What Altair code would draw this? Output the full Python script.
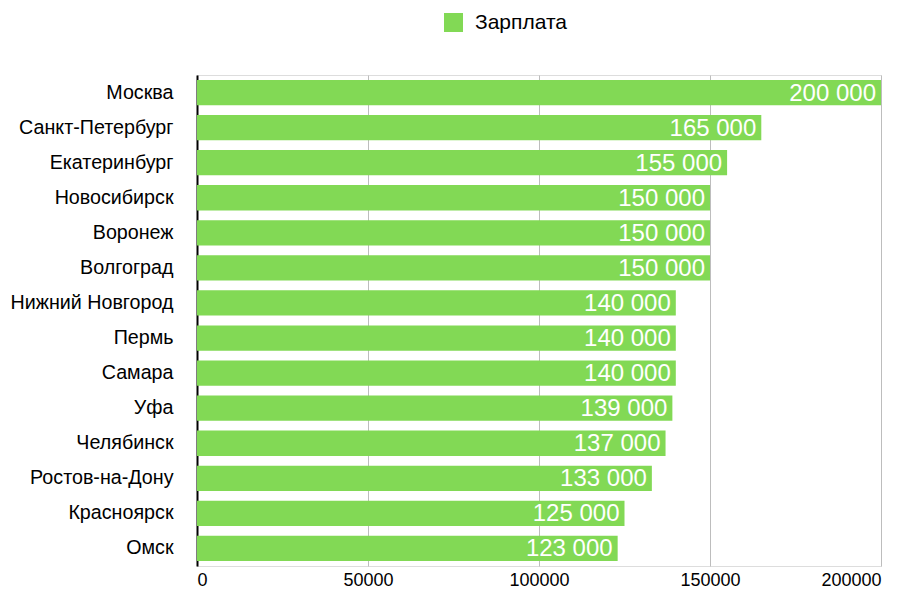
import altair as alt
import pandas as pd

cities = ["Москва", "Санкт-Петербург", "Екатеринбург", "Новосибирск", "Воронеж",
          "Волгоград", "Нижний Новгород", "Пермь", "Самара", "Уфа", "Челябинск",
          "Ростов-на-Дону", "Красноярск", "Омск"]
salaries = [200000, 165000, 155000, 150000, 150000, 150000, 140000, 140000,
            140000, 139000, 137000, 133000, 125000, 123000]
series_name = "Зарплата"
x_ticks = [0, 50000, 100000, 150000, 200000]

df = pd.DataFrame({
    "city": cities,
    "value": salaries,
    "series": [series_name] * len(cities),
    "label": [f"{v:,}".replace(",", " ") for v in salaries],
})

FONT = "Liberation Sans"
GREEN = "#82D955"

y_enc = alt.Y("city:N", sort=cities, title=None,
              scale=alt.Scale(paddingInner=0.28, paddingOuter=0.14),
              axis=alt.Axis(domain=True, domainColor="#000000", domainWidth=2,
                            ticks=False, labelFontSize=19.7, labelColor="#000000",
                            labelPadding=24, labelFont=FONT, grid=False))
x_enc = alt.X("value:Q", title=None,
              scale=alt.Scale(domain=[0, 200000], nice=False),
              axis=alt.Axis(values=x_ticks, format="d", domain=False, ticks=False,
                            labelFontSize=18, labelColor="#000000", labelFont=FONT,
                            labelPadding=5, grid=True, gridColor="#BDBDBD",
                            gridWidth=1))

bars = alt.Chart(df).mark_bar(color=GREEN).encode(
    x=x_enc,
    y=y_enc,
    color=alt.Color("series:N", title=None,
                    scale=alt.Scale(domain=[series_name], range=[GREEN]),
                    legend=alt.Legend(orient="none", legendX=246, legendY=-63,
                                      symbolType="square", symbolSize=361,
                                      symbolStrokeWidth=0, symbolOpacity=1,
                                      labelFontSize=21, labelFont=FONT,
                                      labelColor="#000000", labelOffset=11,
                                      padding=0)),
)

labels = alt.Chart(df).mark_text(align="right", baseline="middle", dx=-5, dy=1,
                                 color="white", fontSize=24, font=FONT).encode(
    x=alt.X("value:Q"),
    y=alt.Y("city:N", sort=cities),
    text="label:N",
)

chart = (bars + labels).properties(
    width=684, height=491,
    autosize=alt.AutoSizeParams(type="none"),
    padding={"left": 189, "top": 67, "right": 31, "bottom": 26},
).configure_view(stroke=None).configure(font=FONT)

chart.save("out.html", embed_options={"renderer": "svg", "actions": False})
